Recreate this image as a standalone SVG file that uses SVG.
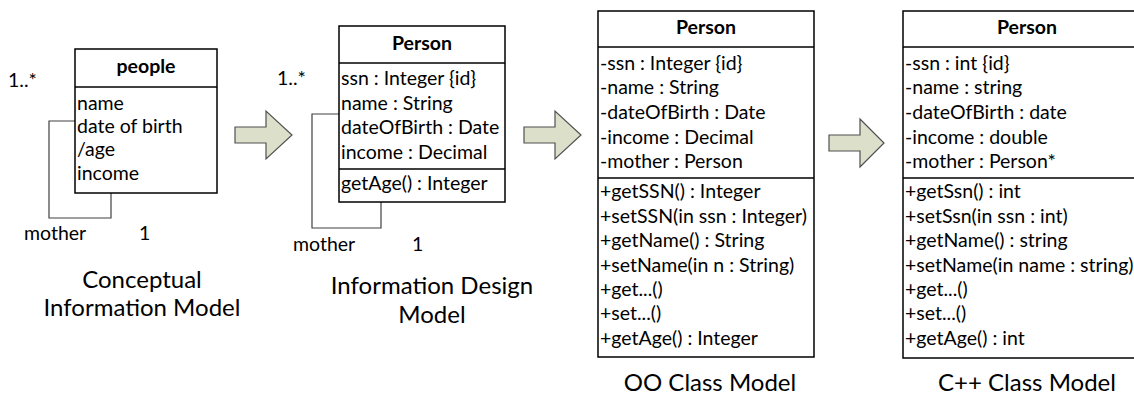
<svg xmlns="http://www.w3.org/2000/svg" width="1134" height="395" viewBox="0 0 1134 395">
<style>
text{font-family:Lato,"Liberation Sans",sans-serif;fill:#000}
.t{font-size:19.5px}
.b{font-size:19.5px;font-weight:bold;text-anchor:middle}
.cap{font-size:24px;text-anchor:middle}
.box{fill:#fff;stroke:#000;stroke-width:1.5}
.sep{stroke:#000;stroke-width:1.5}
.loop{fill:none;stroke:#404040;stroke-width:1.2}
.arr{fill:#dcdfc9;stroke:#505050;stroke-width:1.2;stroke-linejoin:miter}
</style>
<rect width="1134" height="395" fill="#fff"/>
<g id="connectors">
<polyline class="loop" points="75,121 49,121 49,218 111,218 111,193"/>
<polyline class="loop" points="339,114 312,114 312,228 381,228 381,202"/>
<polygon class="arr" points="235,127 266,127 266,111 292,135 266,159 266,143 235,143"/>
<polygon class="arr" points="524,127 555,127 555,111 581,135 555,159 555,143 524,143"/>
<polygon class="arr" points="829,135 860,135 860,119 884,143 860,167 860,151 829,151"/>
</g>
<g id="people">
<rect class="box" x="75" y="49" width="142" height="144"/>
<line class="sep" x1="75" y1="87" x2="217" y2="87"/>
<text class="b" x="146" y="73">people</text>
<text class="t" x="77" y="110">name</text>
<text class="t" x="77" y="133">date of birth</text>
<text class="t" x="77" y="156">/age</text>
<text class="t" x="77" y="180">income</text>
<text class="t" x="8" y="87">1..*</text>
<text class="t" x="24" y="240">mother</text>
<text class="t" x="139" y="240">1</text>
<text class="cap" x="142" y="288">Conceptual</text>
<text class="cap" x="142" y="316">Information Model</text>
</g>
<g id="person-design">
<rect class="box" x="339" y="26" width="166" height="176"/>
<line class="sep" x1="339" y1="63" x2="505" y2="63"/>
<line class="sep" x1="339" y1="169" x2="505" y2="169"/>
<text class="b" x="422" y="50">Person</text>
<text class="t" x="341" y="85">ssn : Integer {id}</text>
<text class="t" x="341" y="110">name : String</text>
<text class="t" x="341" y="134">dateOfBirth : Date</text>
<text class="t" x="341" y="159">income : Decimal</text>
<text class="t" x="341" y="190">getAge() : Integer</text>
<text class="t" x="277" y="85">1..*</text>
<text class="t" x="293" y="251">mother</text>
<text class="t" x="412" y="251">1</text>
<text class="cap" x="432" y="294">Information Design</text>
<text class="cap" x="432" y="323">Model</text>
</g>
<g id="person-oo">
<rect class="box" x="598" y="11" width="216" height="346"/>
<line class="sep" x1="598" y1="47" x2="814" y2="47"/>
<line class="sep" x1="598" y1="178" x2="814" y2="178"/>
<text class="b" x="706" y="34">Person</text>
<text class="t" x="600" y="70">-ssn : Integer {id}</text>
<text class="t" x="600" y="94">-name : String</text>
<text class="t" x="600" y="119">-dateOfBirth : Date</text>
<text class="t" x="600" y="144">-income : Decimal</text>
<text class="t" x="600" y="168">-mother : Person</text>
<text class="t" x="600" y="198">+getSSN() : Integer</text>
<text class="t" x="600" y="223">+setSSN(in ssn : Integer)</text>
<text class="t" x="600" y="247">+getName() : String</text>
<text class="t" x="600" y="272">+setName(in n : String)</text>
<text class="t" x="600" y="296">+get...()</text>
<text class="t" x="600" y="320">+set...()</text>
<text class="t" x="600" y="345">+getAge() : Integer</text>
<text class="cap" x="710" y="391">OO Class Model</text>
</g>
<g id="person-cpp">
<rect class="box" x="903" y="11" width="248" height="347"/>
<line class="sep" x1="903" y1="47" x2="1151" y2="47"/>
<line class="sep" x1="903" y1="178" x2="1151" y2="178"/>
<text class="b" x="1027" y="34">Person</text>
<text class="t" x="905" y="70">-ssn : int {id}</text>
<text class="t" x="905" y="94">-name : string</text>
<text class="t" x="905" y="119">-dateOfBirth : date</text>
<text class="t" x="905" y="144">-income : double</text>
<text class="t" x="905" y="168">-mother : Person*</text>
<text class="t" x="905" y="198">+getSsn() : int</text>
<text class="t" x="905" y="223">+setSsn(in ssn : int)</text>
<text class="t" x="905" y="247">+getName() : string</text>
<text class="t" x="905" y="272">+setName(in name : string)</text>
<text class="t" x="905" y="296">+get...()</text>
<text class="t" x="905" y="320">+set...()</text>
<text class="t" x="905" y="345">+getAge() : int</text>
<text class="cap" x="1027" y="391">C++ Class Model</text>
</g>
</svg>
